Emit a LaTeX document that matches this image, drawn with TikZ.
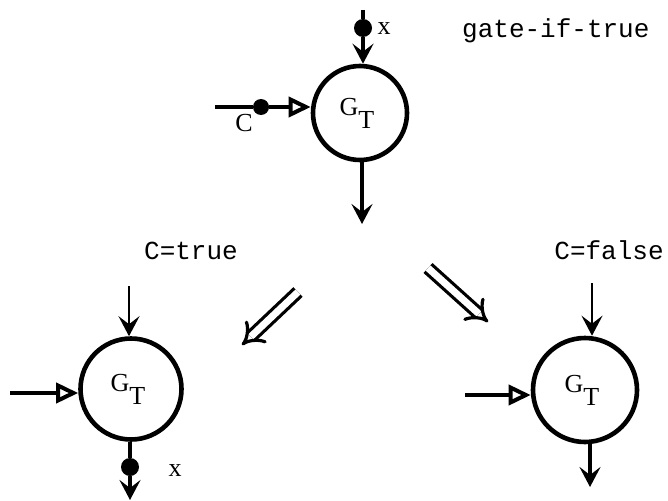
\documentclass[tikz,border=0pt]{standalone}
\usepackage{fontspec}
\setmainfont{Liberation Serif}
\newfontfamily\typewriter{Liberation Mono}
\usetikzlibrary{arrows.meta}
\tikzset{
  gate/.style={circle, draw, line width=4.6pt, minimum size=#1, inner sep=0pt,
    font=\fontsize{26}{26}\selectfont},
  dot/.style={circle, fill, inner sep=0pt, minimum size=14pt},
  wire/.style={line width=3.2pt},
  flow/.style={wire, -{Stealth[length=20pt, width=21pt, inset=8pt]}},
  ctrl/.style={wire, -{Triangle[open, length=22pt, width=20pt, line width=4pt]}},
  lbl/.style={font=\fontsize{26}{26}\selectfont, inner sep=0pt},
  tt/.style={font=\typewriter\fontsize{26}{26}\selectfont, inner sep=0pt},
  derive/.style={double, double distance=7pt, line width=3.2pt,
    -{Implies[length=20pt]}}
}
\newcommand{\gatelabel}{\hspace*{-6pt}G\raisebox{-13pt}{T}}
\begin{document}
\begin{tikzpicture}[x=1pt, y=-1pt]
\useasboundingbox (0,0) rectangle (668,500);

% top gate with both inputs present
\node[gate=94pt] (gtop) at (360,113) {\gatelabel};
\coordinate (xsrc) at (363,10);
\node[dot, minimum height=18pt] (xdot) at (363,28) {};
\draw[wire] (xsrc) -- (xdot);
\draw[flow] (xdot) -- (xdot |- gtop.north);
\node[lbl] (xlab) at (384,29) {x};
\coordinate (csrc) at (215,107);
\node[dot, minimum width=16pt] (cdot) at (261,107) {};
\draw[wire] (csrc) -- (cdot);
\draw[ctrl] (cdot) -- (gtop.west |- cdot);
\node[lbl] (clab) at (244,123) {C};
\coordinate (outtop) at (362,224);
\draw[flow] (gtop.south -| outtop) -- (outtop);
\node[tt, anchor=west] (title) at (462,31) {gate-if-true};

% derivation arrows
\coordinate (dl1) at (298,292);
\coordinate (dl2) at (242,345);
\draw[derive] (dl1) -- (dl2);
\coordinate (dr1) at (428,268);
\coordinate (dr2) at (488,322);
\draw[derive] (dr1) -- (dr2);

% result when the control is true
\node[tt] (ttrue) at (191,251) {C=true};
\node[gate=101pt] (gleft) at (131,389) {\gatelabel};
\coordinate (lin) at (129,286);
\draw[flow, line width=2.4pt] (lin) -- (lin |- gleft.north);
\coordinate (lcs) at (10,393);
\draw[ctrl] (lcs) -- (gleft.west |- lcs);
\node[dot, minimum height=18pt] (ldot) at (130,467) {};
\draw[wire] (gleft.south -| ldot) -- (ldot);
\coordinate (lout) at (130,500);
\draw[flow] (ldot) -- (lout);
\node[lbl] (lx) at (175,471) {x};

% result when the control is false
\node[tt] (tfalse) at (609,250) {C=false};
\node[gate=104pt] (gright) at (585,390) {\gatelabel};
\coordinate (rin) at (592,283);
\draw[flow, line width=2.4pt] (rin) -- (rin |- gright.north);
\coordinate (rcs) at (465,395);
\draw[ctrl] (rcs) -- (gright.west |- rcs);
\coordinate (rout) at (590,487);
\draw[flow] (gright.south -| rout) -- (rout);
\end{tikzpicture}
\end{document}
